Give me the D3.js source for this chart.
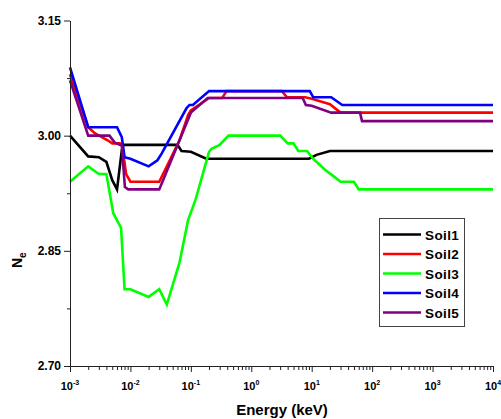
<!DOCTYPE html>
<html>
<head>
<meta charset="utf-8">
<script src="https://cdn.jsdelivr.net/npm/d3@7"></script>
<style>
  html, body { margin: 0; padding: 0; background: #ffffff; }
  svg { display: block; font-family: "Liberation Sans", Arial, sans-serif; }
</style>
</head>
<body>
<script>
// ---- Data (Energy in keV, Ne) ----
const seriesNames = ["Soil1", "Soil2", "Soil3", "Soil4", "Soil5"];
const seriesColors = ["#000000", "#ff0000", "#00ff00", "#0000ff", "#800080"];

const soil1 = [[1e-3,3.000],[2e-3,2.973],[3e-3,2.972],[4e-3,2.966],[5e-3,2.942],[6e-3,2.930],
  [7.2e-3,2.981],[7.6e-3,2.988],[0.06,2.988],[0.07,2.980],[0.1,2.979],[0.18,2.970],
  [9,2.970],[12,2.975],[20,2.980],[1e4,2.980]];

const soil2 = [[1e-3,3.080],[2e-3,3.011],[2.6e-3,3.003],[4.2e-3,2.994],[5e-3,2.990],[6.7e-3,2.990],
  [7.3e-3,2.987],[8.5e-3,2.950],[1e-2,2.940],[0.03,2.940],[0.065,2.994],[0.09,3.027],[0.1,3.033],
  [0.2,3.049],[0.33,3.049],[0.39,3.058],[3.2,3.058],[3.9,3.050],[7.8,3.050],[10,3.048],
  [20,3.041],[30,3.030],[1e4,3.030]];

const soil3 = [[1e-3,2.940],[2e-3,2.960],[3e-3,2.950],[4e-3,2.950],[5.2e-3,2.899],[7e-3,2.880],
  [8e-3,2.800],[1e-2,2.800],[0.02,2.790],[0.03,2.800],[0.04,2.780],[0.065,2.835],[0.09,2.890],
  [0.12,2.917],[0.2,2.979],[0.22,2.983],[0.3,2.988],[0.42,3.000],[3,3.000],[4,2.990],[5,2.990],
  [6,2.980],[8.4,2.980],[10.5,2.970],[17,2.955],[24,2.946],[30,2.940],[50,2.940],[60,2.930],[1e4,2.930]];

const soil4 = [[1e-3,3.089],[2e-3,3.011],[6e-3,3.011],[7.2e-3,2.998],[8e-3,2.972],[1e-2,2.970],
  [0.02,2.960],[0.028,2.968],[0.033,2.977],[0.085,3.036],[0.095,3.040],[0.108,3.040],[0.2,3.058],
  [9.3,3.058],[10.6,3.050],[21,3.050],[32,3.040],[1e4,3.040]];

const soil5 = [[1e-3,3.072],[2e-3,3.000],[4.5e-3,3.000],[5.5e-3,2.991],[7.2e-3,2.987],[8.1e-3,2.933],
  [9.2e-3,2.930],[0.03,2.930],[0.1,3.030],[0.19,3.049],[7.1,3.049],[8,3.040],[10,3.039],
  [21,3.030],[63,3.030],[68,3.019],[1e4,3.019]];

const allSeries = [soil1, soil2, soil3, soil4, soil5];

const yMajorTicks = [2.70, 2.85, 3.00, 3.15];
const yMinorTicks = [2.775, 2.925, 3.075];
const xDecades = [-3, -2, -1, 0, 1, 2, 3, 4];

// ---- Layout ----
const W = 501, H = 419;
const x = d3.scaleLog().domain([1e-3, 1e4]).range([70, 493]);
const y = d3.scaleLinear().domain([2.70, 3.15]).range([366, 20.5]);

const svg = d3.select("body").append("svg").attr("width", W).attr("height", H);

const axisColor = "#222";

// ---- Lines ----
const line = d3.line().x(d => x(d[0])).y(d => y(d[1]));
allSeries.forEach((s, i) => {
  svg.append("path")
    .datum(s)
    .attr("d", line)
    .attr("fill", "none")
    .attr("stroke", seriesColors[i])
    .attr("stroke-width", 2.6)
    .attr("stroke-linejoin", "miter");
});

// ---- Y axis ----
const yAxisMinor = d3.axisLeft(y).tickValues(yMinorTicks).tickSize(3).tickSizeOuter(0).tickFormat("");
const gyMinor = svg.append("g").attr("transform", "translate(70,0)").call(yAxisMinor);
gyMinor.select(".domain").remove();
const yAxis = d3.axisLeft(y).tickValues(yMajorTicks).tickSize(6).tickSizeOuter(0).tickPadding(3).tickFormat(d3.format(".2f"));
const gy = svg.append("g").attr("transform", "translate(70,0)").call(yAxis);
gy.selectAll("text").attr("font-size", 12).attr("font-weight", "bold").attr("fill", "#000")
  .attr("font-family", "'Liberation Sans', Arial, sans-serif");
svg.selectAll("g .tick line").attr("stroke", axisColor);
gy.select(".domain").attr("stroke", axisColor);

// ---- X axis ----
const minorVals = [];
xDecades.slice(0, -1).forEach(d => { for (let k = 2; k <= 9; k++) minorVals.push(k * Math.pow(10, d)); });
const xAxisMinor = d3.axisBottom(x).tickValues(minorVals).tickSize(4).tickSizeOuter(0).tickFormat("");
const gxMinor = svg.append("g").attr("transform", "translate(0,366)").call(xAxisMinor);
gxMinor.select(".domain").remove();
const majorVals = xDecades.map(d => Math.pow(10, d));
const xAxis = d3.axisBottom(x).tickValues(majorVals).tickSize(6).tickSizeOuter(0).tickFormat("");
const gx = svg.append("g").attr("transform", "translate(0,366)").call(xAxis);
gx.select(".domain").attr("stroke", axisColor);
svg.selectAll(".tick line").attr("stroke", axisColor);

const xl = svg.append("g");
xDecades.forEach(d => {
  const t = xl.append("text")
    .attr("x", x(Math.pow(10, d)))
    .attr("y", 390)
    .attr("text-anchor", "middle")
    .attr("font-size", 11)
    .attr("font-weight", "bold")
    .attr("fill", "#000");
  t.append("tspan").text("10");
  t.append("tspan").attr("dy", -5).attr("font-size", 7).text(d < 0 ? "-" + Math.abs(d) : String(d));
});

// ---- Axis titles ----
svg.append("text")
  .attr("x", 282).attr("y", 415)
  .attr("text-anchor", "middle")
  .attr("font-size", 15).attr("font-weight", "bold").attr("fill", "#000")
  .text("Energy (keV)");

const yt = svg.append("text")
  .attr("transform", "translate(22,268) rotate(-90)")
  .attr("text-anchor", "start")
  .attr("font-size", 14).attr("font-weight", "bold").attr("fill", "#000");
yt.append("tspan").text("N");
yt.append("tspan").attr("dy", 4).attr("font-size", 10).text("e");

// ---- Legend ----
const lg = svg.append("g");
lg.append("rect")
  .attr("x", 379.5).attr("y", 218.5).attr("width", 85).attr("height", 108)
  .attr("fill", "#fff").attr("stroke", "#444").attr("stroke-width", 1);
seriesNames.forEach((n, i) => {
  const yy = 234.5 + i * 19.5;
  lg.append("line").attr("x1", 383).attr("x2", 421).attr("y1", yy).attr("y2", yy)
    .attr("stroke", seriesColors[i]).attr("stroke-width", 2.6);
  lg.append("text").attr("x", 425).attr("y", yy + 5)
    .attr("font-size", 13.5).attr("font-weight", "bold").attr("fill", "#000")
    .attr("letter-spacing", 0.4)
    .text(n);
});
</script>
</body>
</html>
